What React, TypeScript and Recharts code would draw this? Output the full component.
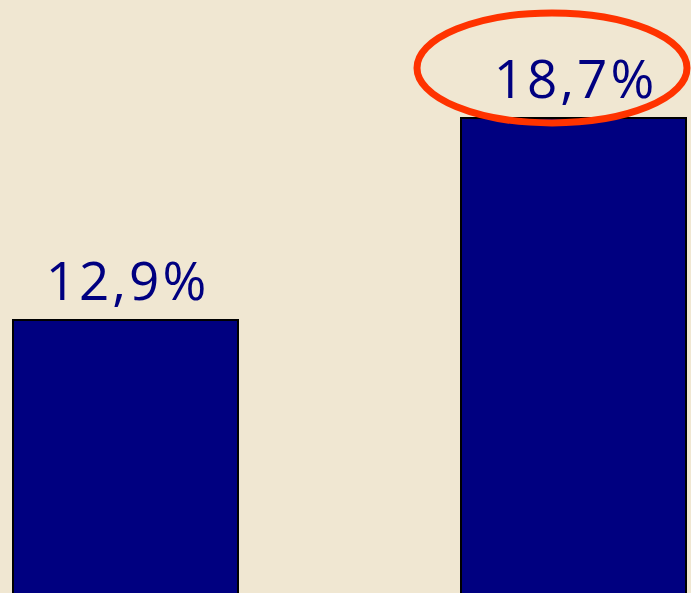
import { BarChart, Bar, XAxis, YAxis, LabelList, ReferenceDot } from 'recharts'

const categories = ['Antes', 'Depois']
const values = [12.9, 18.7]
const valueLabels = ['12,9%', '18,7%']

const data = categories.map((name, i) => ({ name, value: values[i], label: valueLabels[i] }))

const BG = '#F0E7D2'
const NAVY = '#000080'

export default function App() {
  return (
    <div style={{ position: 'fixed', inset: 0, background: BG, overflow: 'hidden' }}>
      <div style={{ position: 'absolute', left: -99, top: 0 }}>
        <BarChart
          width={896}
          height={603}
          data={data}
          margin={{ top: 0, right: 0, bottom: 0, left: 0 }}
          barCategoryGap={0}
        >
          <XAxis dataKey="name" hide />
          <YAxis hide domain={[4.775, 22.09]} allowDataOverflow />
          <Bar
            dataKey="value"
            fill={NAVY}
            stroke="#000000"
            strokeWidth={2}
            barSize={225}
            isAnimationActive={false}
          >
            <LabelList
              dataKey="label"
              position="top"
              offset={20}
              fill={NAVY}
              style={{ fontFamily: '"Open Sans", sans-serif', fontSize: 53, fontWeight: 500, letterSpacing: 3, transform: 'translateX(2px)' }}
            />
          </Bar>
          {/* annotation ring around the second value */}
          <ReferenceDot
            x="Depois"
            y={20.14}
            ifOverflow="visible"
            shape={(p: any) => (
              <ellipse
                cx={p.cx - 21}
                cy={p.cy}
                rx={135}
                ry={55}
                fill="none"
                stroke="#FF3300"
                strokeWidth={7}
              />
            )}
          />
        </BarChart>
      </div>
    </div>
  )
}
